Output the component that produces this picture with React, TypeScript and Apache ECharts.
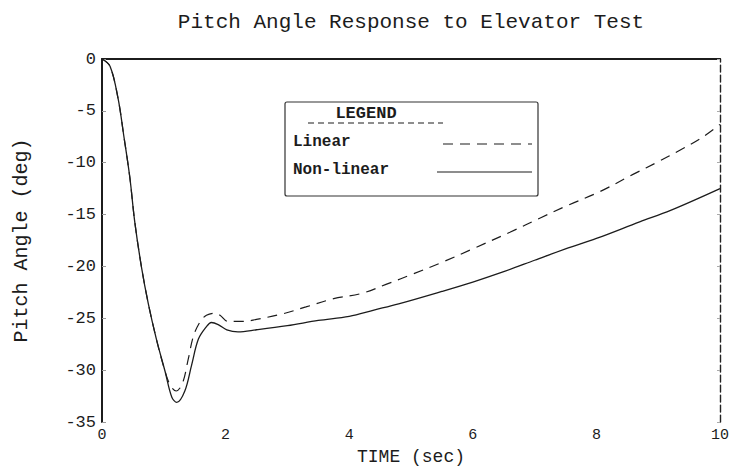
import React, { useEffect, useRef } from "react";
import * as echarts from "echarts";

const TITLE = "Pitch Angle Response to Elevator Test";
const X_NAME = "TIME (sec)";
const Y_NAME = "Pitch Angle (deg)";
const LEGEND_TITLE = "LEGEND";
const SERIES_NAMES = ["Linear", "Non-linear"];

const X_MIN = 0;
const X_MAX = 10;
const X_STEP = 2;
const Y_MIN = -35;
const Y_MAX = 0;
const Y_STEP = 5;

const linearTime = [
  0, 0.13, 0.26, 0.35, 0.45, 0.53, 0.64, 0.75, 0.88, 1.0, 1.1, 1.2, 1.3, 1.4,
  1.48, 1.59, 1.69, 1.83, 1.91, 2.04, 2.3, 2.5, 2.9, 3.3, 3.75, 4.2, 4.65, 5.0,
  5.5, 6.0, 6.6, 7.1, 7.5, 8.05, 8.6, 9.0, 9.35, 9.7, 10,
];
const linearPitch = [
  0, -0.7, -3.8, -7.3, -11.4, -15.7, -20.1, -23.6, -27.0, -29.7, -31.4, -32.0,
  -31.3, -28.8, -26.7, -25.3, -24.7, -24.5, -24.7, -25.3, -25.3, -25.1, -24.6,
  -23.9, -23.1, -22.6, -21.6, -20.8, -19.6, -18.3, -16.7, -15.3, -14.2, -12.8,
  -11.1, -9.9, -8.8, -7.6, -6.3,
];

const nonlinearTime = [
  0, 0.13, 0.26, 0.35, 0.45, 0.53, 0.64, 0.75, 0.88, 1.02, 1.13, 1.21, 1.34,
  1.45, 1.56, 1.69, 1.77, 1.88, 2.02, 2.2, 2.5, 3.0, 3.5, 4.0, 4.4, 4.8, 5.5,
  6.0, 6.5, 7.0, 7.5, 8.0, 8.7, 9.2, 10,
];
const nonlinearPitch = [
  0, -0.7, -3.8, -7.3, -11.4, -15.7, -20.1, -23.6, -27.0, -30.1, -32.6, -33.1,
  -32.0, -29.5, -27.0, -25.8, -25.4, -25.6, -26.1, -26.3, -26.1, -25.7, -25.2,
  -24.8, -24.2, -23.6, -22.4, -21.5, -20.5, -19.4, -18.3, -17.3, -15.7, -14.6,
  -12.5,
];

const MONO = "'Liberation Mono', 'DejaVu Sans Mono', monospace";
const INK = "#1c1c1c";

function pairs(xs: number[], ys: number[]) {
  return xs.map((x, i) => [x, ys[i]]);
}

export default function App() {
  const ref = useRef<HTMLDivElement>(null);

  useEffect(() => {
    if (!ref.current) return;
    const chart = echarts.init(ref.current, undefined, { renderer: "svg" });

    const gridLeft = 102;
    const gridRight = 14;
    const gridTop = 59;
    const gridBottom = 39;
    const W = 734;
    const plotCenterX = gridLeft + (W - gridLeft - gridRight) / 2;

    const option: any = {
      animation: false,
      backgroundColor: "#ffffff",
      grid: {
        left: gridLeft,
        right: gridRight,
        top: gridTop,
        bottom: gridBottom,
        containLabel: false,
      },
      xAxis: [
        {
          type: "value",
          min: X_MIN,
          max: X_MAX,
          interval: X_STEP,
          position: "bottom",
          name: X_NAME,
          nameLocation: "middle",
          nameGap: 10,
          nameTextStyle: {
            fontFamily: MONO,
            fontSize: 18,
            color: INK,
            verticalAlign: "top",
          },
          axisLine: { show: true, lineStyle: { color: INK, width: 1.5 } },
          axisTick: { show: false },
          splitLine: { show: false },
          axisLabel: {
            margin: 6,
            fontFamily: MONO,
            fontSize: 15,
            color: INK,
          },
        },
        {
          type: "value",
          min: X_MIN,
          max: X_MAX,
          interval: X_STEP,
          position: "top",
          axisLine: { show: true, lineStyle: { color: INK, width: 1.8 } },
          axisTick: { show: false },
          axisLabel: { show: false },
          splitLine: { show: false },
        },
      ],
      yAxis: [
        {
          type: "value",
          min: Y_MIN,
          max: Y_MAX,
          interval: Y_STEP,
          position: "left",
          name: Y_NAME,
          nameLocation: "middle",
          nameGap: 71,
          nameRotate: 90,
          nameTextStyle: { fontFamily: MONO, fontSize: 20, color: INK },
          axisLine: { show: true, lineStyle: { color: INK, width: 2 } },
          axisTick: {
            show: true,
            inside: true,
            length: 4,
            lineStyle: { color: "#999", width: 1 },
          },
          splitLine: { show: false },
          axisLabel: {
            margin: 6,
            fontFamily: MONO,
            fontSize: 17,
            color: INK,
          },
        },
        {
          type: "value",
          min: Y_MIN,
          max: Y_MAX,
          interval: Y_STEP,
          position: "right",
          axisLine: {
            show: true,
            onZero: false,
            lineStyle: { color: "#222", width: 1.4, type: [7, 3] },
          },
          axisTick: {
            show: true,
            inside: true,
            length: 3,
            lineStyle: { color: "#aaa", width: 1 },
          },
          axisLabel: { show: false },
          splitLine: { show: false },
        },
      ],
      series: [
        {
          name: SERIES_NAMES[0],
          type: "line",
          xAxisIndex: 0,
          yAxisIndex: 0,
          data: pairs(linearTime, linearPitch),
          smooth: 0.35,
          symbol: "none",
          lineStyle: { color: INK, width: 1.2, type: [10, 7] },
        },
        {
          name: SERIES_NAMES[1],
          type: "line",
          xAxisIndex: 0,
          yAxisIndex: 0,
          data: pairs(nonlinearTime, nonlinearPitch),
          smooth: 0.35,
          symbol: "none",
          lineStyle: { color: INK, width: 1.3, type: "solid" },
        },
      ],
      graphic: [
        {
          type: "text",
          x: plotCenterX,
          y: 22,
          style: {
            text: TITLE,
            align: "center",
            verticalAlign: "middle",
            fontFamily: MONO,
            fontSize: 21,
            fill: INK,
          },
        },
        {
          type: "rect",
          shape: { x: 285, y: 102, width: 253, height: 94, r: 2 },
          style: { fill: "#fff", stroke: "#333", lineWidth: 1.2 },
          z: 10,
        },
        {
          type: "text",
          x: 366,
          y: 113,
          z: 11,
          style: {
            text: LEGEND_TITLE,
            align: "center",
            verticalAlign: "middle",
            fontFamily: MONO,
            fontWeight: "bold",
            fontSize: 17,
            fill: INK,
          },
        },
        {
          type: "line",
          z: 11,
          shape: { x1: 308, y1: 123, x2: 443, y2: 123 },
          style: { stroke: INK, lineWidth: 1.2, lineDash: [6, 4] },
        },
        {
          type: "text",
          x: 293,
          y: 142,
          z: 11,
          style: {
            text: SERIES_NAMES[0],
            align: "left",
            verticalAlign: "middle",
            fontFamily: MONO,
            fontWeight: "bold",
            fontSize: 16,
            fill: INK,
          },
        },
        {
          type: "line",
          z: 11,
          shape: { x1: 443, y1: 144, x2: 532, y2: 144 },
          style: { stroke: INK, lineWidth: 1.2, lineDash: [10, 7] },
        },
        {
          type: "text",
          x: 293,
          y: 170,
          z: 11,
          style: {
            text: SERIES_NAMES[1],
            align: "left",
            verticalAlign: "middle",
            fontFamily: MONO,
            fontWeight: "bold",
            fontSize: 16,
            fill: INK,
          },
        },
        {
          type: "line",
          z: 11,
          shape: { x1: 437, y1: 172, x2: 532, y2: 172 },
          style: { stroke: INK, lineWidth: 1.2 },
        },
      ],
    };

    chart.setOption(option);
    return () => {
      chart.dispose();
    };
  }, []);

  return (
    <div
      ref={ref}
      style={{
        position: "fixed",
        left: 0,
        top: 0,
        width: 734,
        height: 471,
        background: "#fff",
      }}
    />
  );
}
